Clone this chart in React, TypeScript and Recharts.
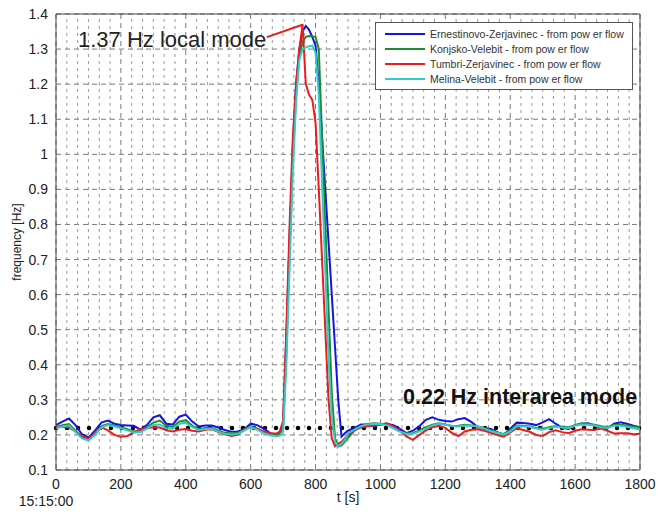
import React from "react";
import {
    LineChart,
    Line,
    XAxis,
    YAxis,
    CartesianGrid,
    ReferenceLine,
} from "recharts";

// time axis [s] from 15:15:00 (finer steps around the local mode burst)
const time = [
    0, 20, 40, 60, 80, 100, 120, 140, 160, 180, 200, 220, 240, 260, 280, 300, 320, 340, 360, 380,
    400, 420, 440, 460, 480, 500, 520, 540, 560, 580, 600, 620, 640, 660, 680,
    690, 700, 710, 720, 730, 740, 750, 760, 770, 780, 790, 800, 810, 820, 830, 840, 850, 860, 870,
    880, 890, 900,
    920, 940, 960, 980, 1000, 1020, 1040, 1060, 1080, 1100, 1120, 1140, 1160, 1180, 1200, 1220,
    1240, 1260, 1280, 1300, 1320, 1340, 1360, 1380, 1400, 1420, 1440, 1460, 1480, 1500, 1520,
    1540, 1560, 1580, 1600, 1620, 1640, 1660, 1680, 1700, 1720, 1740, 1760, 1780, 1800,
];

const ernestinovo = [
    0.228, 0.238, 0.247, 0.228, 0.202, 0.192, 0.212, 0.235, 0.241, 0.232, 0.228, 0.227, 0.226, 0.215,
    0.228, 0.25, 0.256, 0.232, 0.23, 0.252, 0.258, 0.238, 0.224, 0.227, 0.227, 0.221, 0.214, 0.209,
    0.21, 0.216, 0.232, 0.228, 0.218, 0.205, 0.2,
    0.2, 0.23, 0.48, 0.76, 1.02, 1.2, 1.3, 1.35, 1.366, 1.355, 1.335, 1.31, 1.2, 1.05, 0.9, 0.75,
    0.6, 0.45, 0.3, 0.195, 0.205, 0.212,
    0.22, 0.23, 0.23, 0.225, 0.23, 0.232, 0.228, 0.217, 0.205, 0.212, 0.225, 0.243, 0.25, 0.243,
    0.24, 0.238, 0.245, 0.248, 0.237, 0.222, 0.22, 0.217, 0.208, 0.2, 0.218, 0.235, 0.234, 0.232,
    0.228, 0.236, 0.245, 0.232, 0.22, 0.217, 0.228, 0.232, 0.233, 0.226, 0.221, 0.219, 0.232,
    0.236, 0.232, 0.226, 0.222,
];

const konjsko = [
    0.222, 0.228, 0.231, 0.212, 0.193, 0.187, 0.203, 0.225, 0.231, 0.227, 0.222, 0.216, 0.21, 0.211,
    0.222, 0.235, 0.241, 0.226, 0.223, 0.238, 0.242, 0.226, 0.217, 0.22, 0.22, 0.213, 0.206, 0.204,
    0.206, 0.215, 0.225, 0.218, 0.208, 0.202, 0.2,
    0.205, 0.22, 0.44, 0.72, 0.99, 1.17, 1.28, 1.32, 1.335, 1.337, 1.336, 1.335, 1.3, 1.05, 0.8,
    0.56, 0.32, 0.19, 0.167, 0.17, 0.18, 0.192,
    0.212, 0.224, 0.231, 0.233, 0.232, 0.229, 0.221, 0.211, 0.204, 0.205, 0.213, 0.222, 0.229,
    0.233, 0.23, 0.225, 0.226, 0.229, 0.227, 0.224, 0.219, 0.213, 0.207, 0.203, 0.213, 0.227,
    0.226, 0.224, 0.22, 0.218, 0.222, 0.225, 0.223, 0.222, 0.228, 0.233, 0.232, 0.229, 0.225,
    0.222, 0.228, 0.229, 0.227, 0.224, 0.222,
];

const tumbri = [
    0.223, 0.223, 0.221, 0.21, 0.195, 0.19, 0.205, 0.222, 0.213, 0.2, 0.195, 0.197, 0.207, 0.216,
    0.219, 0.222, 0.221, 0.213, 0.21, 0.215, 0.217, 0.212, 0.21, 0.215, 0.216, 0.209, 0.202, 0.197,
    0.2, 0.215, 0.222, 0.218, 0.21, 0.205, 0.204,
    0.21, 0.24, 0.5, 0.8, 1.05, 1.2, 1.3, 1.37, 1.2, 1.17, 1.155, 1.09, 0.9, 0.7, 0.5, 0.3, 0.19,
    0.168, 0.175, 0.18, 0.19, 0.2,
    0.214, 0.221, 0.225, 0.227, 0.23, 0.233, 0.224, 0.212, 0.196, 0.186, 0.2, 0.213, 0.222, 0.226,
    0.22, 0.206, 0.197, 0.21, 0.215, 0.216, 0.212, 0.206, 0.2, 0.195, 0.207, 0.219, 0.214, 0.209,
    0.2, 0.197, 0.208, 0.213, 0.208, 0.205, 0.212, 0.216, 0.215, 0.214, 0.218, 0.212, 0.204,
    0.205, 0.205, 0.202, 0.203,
];

const melina = [
    0.219, 0.224, 0.227, 0.208, 0.19, 0.184, 0.2, 0.222, 0.228, 0.224, 0.219, 0.213, 0.207, 0.208,
    0.218, 0.229, 0.23, 0.219, 0.218, 0.232, 0.235, 0.222, 0.214, 0.217, 0.217, 0.21, 0.203, 0.201,
    0.203, 0.212, 0.222, 0.215, 0.205, 0.199, 0.196,
    0.198, 0.21, 0.4, 0.68, 0.95, 1.15, 1.27, 1.3, 1.305, 1.308, 1.31, 1.29, 1.17, 0.92, 0.67,
    0.42, 0.25, 0.18, 0.168, 0.175, 0.185, 0.205,
    0.215, 0.225, 0.23, 0.232, 0.231, 0.228, 0.219, 0.209, 0.203, 0.203, 0.21, 0.218, 0.227, 0.232,
    0.229, 0.226, 0.224, 0.227, 0.226, 0.224, 0.218, 0.211, 0.206, 0.201, 0.21, 0.225, 0.224,
    0.223, 0.218, 0.215, 0.22, 0.223, 0.221, 0.22, 0.226, 0.23, 0.229, 0.227, 0.222, 0.22, 0.226,
    0.226, 0.223, 0.219, 0.216,
];

const xTicks = [0, 200, 400, 600, 800, 1000, 1200, 1400, 1600, 1800];
const yTicks = [0.1, 0.2, 0.3, 0.4, 0.5, 0.6, 0.7, 0.8, 0.9, 1, 1.1, 1.2, 1.3, 1.4];
const minorX = [
    33.3, 66.7, 100, 133.3, 166.7, 233.3, 266.7, 300, 333.3, 366.7, 433.3, 466.7, 500, 533.3, 566.7,
    633.3, 666.7, 700, 733.3, 766.7, 833.3, 866.7, 900, 933.3, 966.7, 1033.3, 1066.7, 1100, 1133.3,
    1166.7, 1233.3, 1266.7, 1300, 1333.3, 1366.7, 1433.3, 1466.7, 1500, 1533.3, 1566.7, 1633.3,
    1666.7, 1700, 1733.3, 1766.7,
];
const interareaMode = 0.22;
const localPeak = { t: 762, f: 1.37 };
const arrowStart = { t: 650, f: 1.334 };

const series = [
    { key: "ernestinovo", name: "Ernestinovo-Zerjavinec - from pow er flow", color: "#1414e6" },
    { key: "konjsko", name: "Konjsko-Velebit - from pow er flow", color: "#1e8c2e" },
    { key: "tumbri", name: "Tumbri-Zerjavinec - from pow er flow", color: "#ec1c1c" },
    { key: "melina", name: "Melina-Velebit - from pow er flow", color: "#30cccc" },
];

const data = time.map((t, i) => ({
    t,
    ernestinovo: ernestinovo[i],
    konjsko: konjsko[i],
    tumbri: tumbri[i],
    melina: melina[i],
}));

const FONT = "'Liberation Sans', Arial, Helvetica, sans-serif";

const XTick = (props: any) => {
    const { x, y, payload } = props;
    return (
        <g>
            <text x={x} y={y + 11} textAnchor="middle" fontSize={14} fill="#222" fontFamily={FONT}>
                {payload.value}
            </text>
            {payload.value === 0 && (
                <text x={x - 10} y={y + 28} textAnchor="middle" fontSize={14} fill="#222" fontFamily={FONT}>
                    15:15:00
                </text>
            )}
        </g>
    );
};

const LegendBox = () => (
    <div
        style={{
            position: "absolute",
            left: 375,
            top: 22,
            border: "1px solid #555",
            background: "#fff",
            padding: "3px 8px 3px 9px",
            fontFamily: FONT,
            fontSize: 10.5,
            color: "#333",
        }}
    >
        {series.map((s) => (
            <div key={s.key} style={{ display: "flex", alignItems: "center", height: 15 }}>
                <div style={{ width: 40, height: 2, background: s.color, marginRight: 5 }} />
                <span>{s.name}</span>
            </div>
        ))}
    </div>
);

export default function App() {
    return (
        <div style={{ position: "absolute", left: 0, top: 0, width: 659, height: 515, background: "#fff" }}>
            <LineChart
                width={659}
                height={515}
                data={data}
                margin={{ top: 14, right: 19, left: 6, bottom: 15 }}
            >
                {minorX.map((v) => (
                    <ReferenceLine key={v} x={v} stroke="#999" strokeDasharray="3 4" strokeWidth={1} />
                ))}
                <CartesianGrid stroke="#777" strokeDasharray="5 4" vertical={true} />
                <XAxis
                    dataKey="t"
                    type="number"
                    domain={[0, 1800]}
                    ticks={xTicks}
                    height={30}
                    tick={<XTick />}
                    tickLine={false}
                    axisLine={{ stroke: "#444" }}
                    label={{ value: "t [s]", position: "insideBottom", offset: -2, fontSize: 14, fill: "#222", fontFamily: FONT }}
                />
                <YAxis
                    type="number"
                    domain={[0.1, 1.4]}
                    ticks={yTicks}
                    width={50}
                    tickLine={false}
                    axisLine={{ stroke: "#444" }}
                    tick={{ fontSize: 14, fill: "#222", fontFamily: FONT }}
                    tickFormatter={(v) => String(Number(v.toFixed(1)))}
                    label={{
                        content: (p: any) => {
                            const vb = p.viewBox;
                            const cx = vb.x + 11;
                            const cy = vb.y + vb.height / 2;
                            return (
                                <text
                                    x={cx}
                                    y={cy}
                                    transform={`rotate(-90 ${cx} ${cy})`}
                                    textAnchor="middle"
                                    dominantBaseline="central"
                                    fontSize={12}
                                    fill="#222"
                                    fontFamily={FONT}
                                >
                                    frequency [Hz]
                                </text>
                            );
                        },
                    }}
                />
                <ReferenceLine y={1.4} stroke="#444" />
                <ReferenceLine x={1800} stroke="#444" />
                <ReferenceLine
                    y={interareaMode}
                    stroke="#000"
                    strokeWidth={4.5}
                    strokeDasharray="0 11"
                    strokeLinecap="round"
                />
                {series.map((s) => (
                    <Line
                        key={s.key}
                        dataKey={s.key}
                        name={s.name}
                        stroke={s.color}
                        strokeWidth={2}
                        dot={false}
                        type="linear"
                        isAnimationActive={false}
                    />
                ))}
                <ReferenceLine
                    segment={[
                        { x: arrowStart.t, y: arrowStart.f },
                        { x: localPeak.t, y: localPeak.f },
                    ]}
                    stroke="#ec1c1c"
                    strokeWidth={2}
                />
            </LineChart>
            <LegendBox />
            <div
                style={{
                    position: "absolute",
                    left: 78,
                    top: 27,
                    fontFamily: FONT,
                    fontSize: 22,
                    color: "#222",
                    lineHeight: "26px",
                    whiteSpace: "nowrap",
                }}
            >
                1.37 Hz local mode
            </div>
            <div
                style={{
                    position: "absolute",
                    left: 403,
                    top: 384,
                    fontFamily: FONT,
                    fontSize: 21.5,
                    fontWeight: "bold",
                    color: "#111",
                    lineHeight: "26px",
                    whiteSpace: "nowrap",
                }}
            >
                0.22 Hz interarea mode
            </div>
        </div>
    );
}
